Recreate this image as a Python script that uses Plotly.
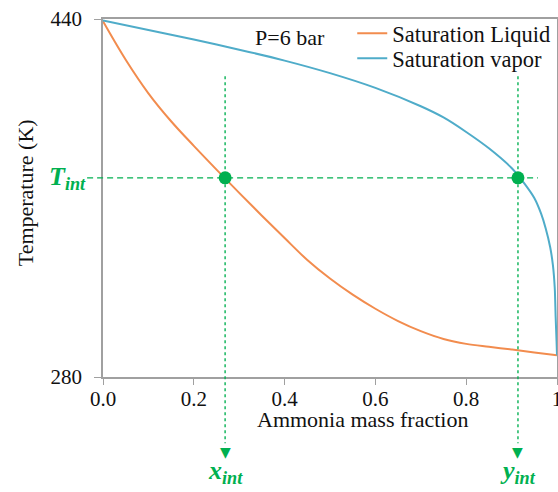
import plotly.graph_objects as go

# ---- data ----
liq_x = [0, 0.05, 0.1, 0.15, 0.2, 0.25, 0.3, 0.35, 0.4, 0.45, 0.5, 0.55,
         0.6, 0.65, 0.7, 0.75, 0.8, 0.85, 0.9, 0.95, 1.0]
liq_T = [439.0, 421.8, 406.8, 394.3, 383.3, 372.7, 362.3, 352.1, 342.1, 332.3,
         324.0, 316.8, 310.5, 305.0, 300.5, 297.0, 294.8, 293.5, 292.3, 291.0, 289.7]

vap_x = [0, 0.1, 0.2, 0.3, 0.4, 0.5, 0.6, 0.7, 0.75, 0.8, 0.85, 0.9, 0.93,
         0.95, 0.965, 0.975, 0.985, 0.991, 0.995, 0.997, 0.999, 1.0]
vap_T = [439.3, 435.1, 430.8, 426.3, 421.4, 415.8, 409.2, 401.0, 396.0, 389.5,
         382.2, 373.4, 366.0, 360.0, 353.0, 346.5, 338.0, 330.0, 320.0, 307.0,
         296.0, 289.7]

x_int = 0.269
y_int = 0.914
T_int = 369.0
guide_top_T = 414.4

x_ticks = [0, 0.2, 0.4, 0.6, 0.8, 1.0]
x_ticktext = ["0.0", "0.2", "0.4", "0.6", "0.8", "1"]
y_ticks = [280, 440]
y_range = [280, 440]

GREEN = "#00B050"
ORANGE = "#F28C4E"
BLUE = "#4FACC9"
AXIS = "#A0A0A0"
FONT = "Liberation Serif, Times New Roman, serif"
TXT = "#111111"


def ypaper(T):
    return (T - y_range[0]) / (y_range[1] - y_range[0])


fig = go.Figure()
fig.add_trace(go.Scatter(x=liq_x, y=liq_T, mode="lines", name="Saturation Liquid",
                         legend="legend",
                         line=dict(color=ORANGE, width=2, shape="spline", smoothing=1)))
fig.add_trace(go.Scatter(x=vap_x, y=vap_T, mode="lines", name="Saturation vapor",
                         legend="legend2",
                         line=dict(color=BLUE, width=2, shape="spline", smoothing=0.8)))

# intersection dots
fig.add_trace(go.Scatter(x=[x_int, y_int], y=[T_int, T_int], mode="markers",
                         marker=dict(color=GREEN, size=13), showlegend=False,
                         cliponaxis=False))

# horizontal dashed guide
fig.add_shape(type="line", xref="paper", yref="y", x0=-0.035, x1=0.958,
              y0=T_int, y1=T_int, line=dict(color=GREEN, width=1.3, dash="6px,4px"))
# vertical dotted guides
for xv in [x_int, y_int]:
    fig.add_shape(type="line", xref="x", yref="paper", x0=xv, x1=xv,
                  y0=ypaper(guide_top_T), y1=-0.185,
                  line=dict(color=GREEN, width=1.7, dash="3px,3px"), opacity=0.8)

annos = [
    dict(text="<b><i>T<sub>int</sub></i></b>", xref="paper", yref="y", x=-0.033,
         y=T_int, xanchor="right", yanchor="middle", showarrow=False,
         font=dict(family=FONT, size=26, color=GREEN)),
    dict(text="<b><i>x<sub>int</sub></i></b>", xref="x", yref="paper", x=x_int,
         y=-0.265, xanchor="center", yanchor="middle", showarrow=False,
         font=dict(family=FONT, size=26, color=GREEN)),
    dict(text="<b><i>y<sub>int</sub></i></b>", xref="x", yref="paper", x=y_int,
         y=-0.265, xanchor="center", yanchor="middle", showarrow=False,
         font=dict(family=FONT, size=26, color=GREEN)),
    dict(text="Ammonia mass fraction", xref="paper", yref="paper", x=0.572,
         y=-0.12, xanchor="center", yanchor="middle", showarrow=False,
         font=dict(family=FONT, size=22, color=TXT)),
    dict(text="Temperature (K)", xref="paper", yref="paper", x=-0.169,
         y=0.514, xanchor="center", yanchor="middle", showarrow=False,
         textangle=-90, font=dict(family=FONT, size=22, color=TXT)),
    dict(text="P=6 bar", xref="paper", yref="paper", x=0.330, y=0.947,
         xanchor="left", yanchor="middle", showarrow=False,
         font=dict(family=FONT, size=22, color=TXT)),
]
# arrow heads under the axis
for xv in [x_int, y_int]:
    annos.append(dict(text="▼", xref="x", yref="paper", x=xv, y=-0.209,
                      xanchor="center", yanchor="middle", showarrow=False,
                      font=dict(family="DejaVu Sans", size=14, color=GREEN)))

fig.update_layout(
    width=558, height=492,
    margin=dict(l=103, r=1, t=19, b=115),
    paper_bgcolor="white", plot_bgcolor="white",
    font=dict(family=FONT, size=21, color=TXT),
    annotations=annos,
    legend=dict(x=0.549, y=0.959, xanchor="left", yanchor="middle",
                bgcolor="rgba(0,0,0,0)", font=dict(family=FONT, size=22.5, color=TXT)),
    legend2=dict(x=0.549, y=0.889, xanchor="left", yanchor="middle",
                 bgcolor="rgba(0,0,0,0)", font=dict(family=FONT, size=22.5, color=TXT)),
    xaxis=dict(range=[0, 1], tickvals=x_ticks, ticktext=x_ticktext,
               showgrid=False, zeroline=False, showline=True, linecolor=AXIS,
               linewidth=1.5, mirror=True, ticks="outside", ticklen=6,
               tickcolor=AXIS, tickwidth=1.2, automargin=False,
               ticklabelstandoff=-4, ticklabeloverflow="allow",
               tickfont=dict(family=FONT, size=21, color=TXT)),
    yaxis=dict(range=y_range, tickvals=y_ticks, showgrid=False, zeroline=False,
               showline=True, linecolor=AXIS, linewidth=1.5, mirror=True,
               ticks="outside", ticklen=7, tickcolor=AXIS, tickwidth=1.2,
               automargin=False, ticklabelstandoff=8,
               tickfont=dict(family=FONT, size=21, color=TXT)),
)

fig.write_html("out.html")
